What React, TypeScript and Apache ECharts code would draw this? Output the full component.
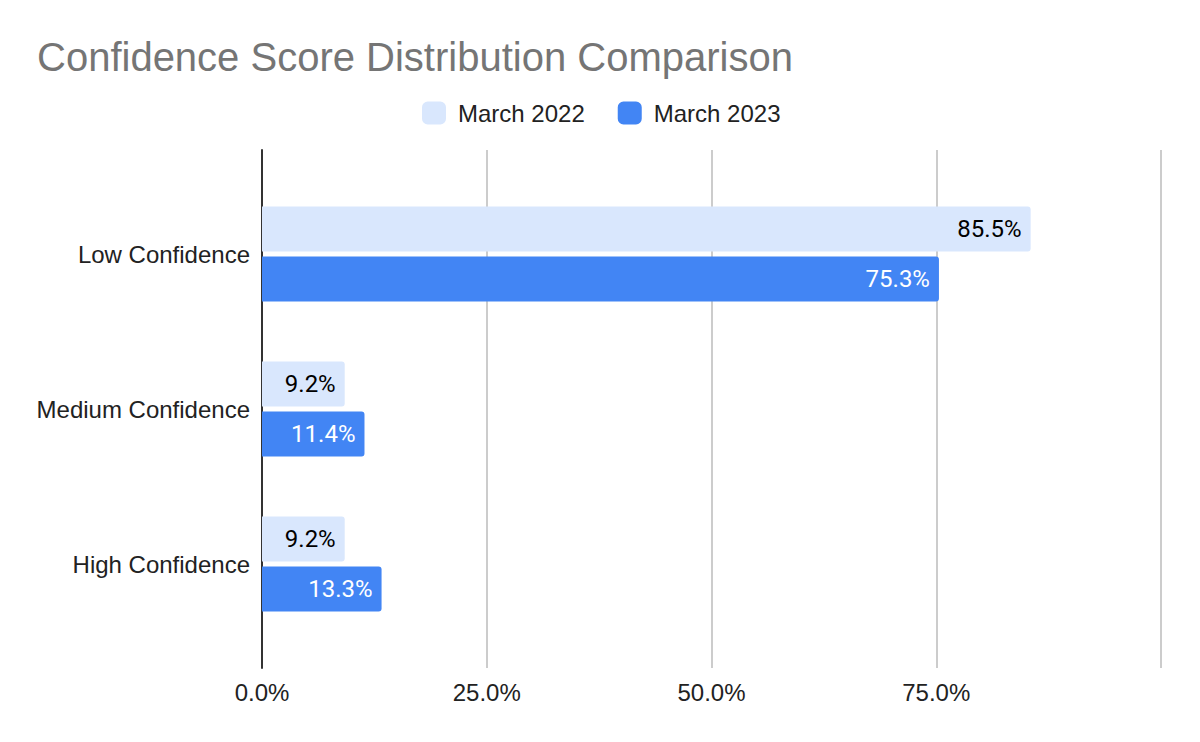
import React, { useEffect, useRef } from "react";
import * as echarts from "echarts";

const categories = ["Low Confidence", "Medium Confidence", "High Confidence"];
const march2022 = [85.5, 9.2, 9.2];
const march2023 = [75.3, 11.4, 13.3];
const xTicks = [0, 25, 50, 75, 100];

const ARIAL = "'Liberation Sans', Arial, sans-serif";
const ROBOTO = "Roboto, Arial, sans-serif";

export default function App() {
  const ref = useRef<HTMLDivElement>(null);
  useEffect(() => {
    if (!ref.current) return;
    const chart = echarts.init(ref.current, null, { renderer: "svg" });
    const labelFmt = (p: any) => `${Number(p.value).toFixed(1)}%`;
    chart.setOption({
      animation: false,
      backgroundColor: "#ffffff",
      title: {
        text: "Confidence Score Distribution Comparison",
        left: 32,
        top: 32,
        textStyle: { fontFamily: ARIAL, fontSize: 40, fontWeight: "normal", color: "#757575" },
      },
      legend: {
        left: 417,
        top: 96,
        itemWidth: 24,
        itemHeight: 23,
        itemGap: 33,
        icon: "roundRect",
        textStyle: { fontFamily: ARIAL, fontSize: 24, color: "#222222", padding: [0, 0, 0, 7] },
        data: ["March 2022", "March 2023"],
      },
      grid: [
        { left: 262, width: 899, top: 150, height: 518 },
        { left: 262, width: 899, top: 176.5, height: 465 },
      ],
      xAxis: [
        {
          gridIndex: 0,
          type: "value",
          min: 0,
          max: 100,
          interval: 25,
          axisLine: { show: false },
          axisTick: { show: false },
          splitLine: { show: true, lineStyle: { color: "#cccccc", width: 2 } },
          axisLabel: {
            fontFamily: ARIAL,
            fontSize: 24,
            color: "#222222",
            margin: 12,
            formatter: (v: number) => (xTicks.indexOf(v) >= 0 && v < 100 ? `${v.toFixed(1)}%` : ""),
          },
        },
        { gridIndex: 1, type: "value", min: 0, max: 100, show: false },
      ],
      yAxis: [
        {
          gridIndex: 0,
          type: "value",
          axisLine: { show: true, lineStyle: { color: "#333333", width: 2 } },
          axisTick: { show: false },
          axisLabel: { show: false },
          splitLine: { show: false },
        },
        {
          gridIndex: 1,
          type: "category",
          inverse: true,
          data: categories,
          axisLine: { show: false },
          axisTick: { show: false },
          axisLabel: { fontFamily: ARIAL, fontSize: 24, color: "#222222", margin: 12 },
        },
      ],
      series: [
        {
          name: "March 2022",
          type: "bar",
          xAxisIndex: 1,
          yAxisIndex: 1,
          data: march2022,
          barWidth: 45,
          barGap: "11%",
          itemStyle: { color: "#d9e7fd", borderRadius: [0, 3, 3, 0] },
          label: {
            show: true,
            position: "insideRight",
            distance: 9,
            formatter: labelFmt,
            fontFamily: ROBOTO,
            fontSize: 24,
            color: "#000000",
          },
        },
        {
          name: "March 2023",
          type: "bar",
          xAxisIndex: 1,
          yAxisIndex: 1,
          data: march2023,
          barWidth: 45,
          barGap: "11%",
          itemStyle: { color: "#4285f4", borderRadius: [0, 3, 3, 0] },
          label: {
            show: true,
            position: "insideRight",
            distance: 9,
            formatter: labelFmt,
            fontFamily: ROBOTO,
            fontSize: 24,
            color: "#ffffff",
          },
        },
      ],
    });
    return () => chart.dispose();
  }, []);
  return <div ref={ref} style={{ width: 1200, height: 742, position: "absolute", left: 0, top: 0 }} />;
}
